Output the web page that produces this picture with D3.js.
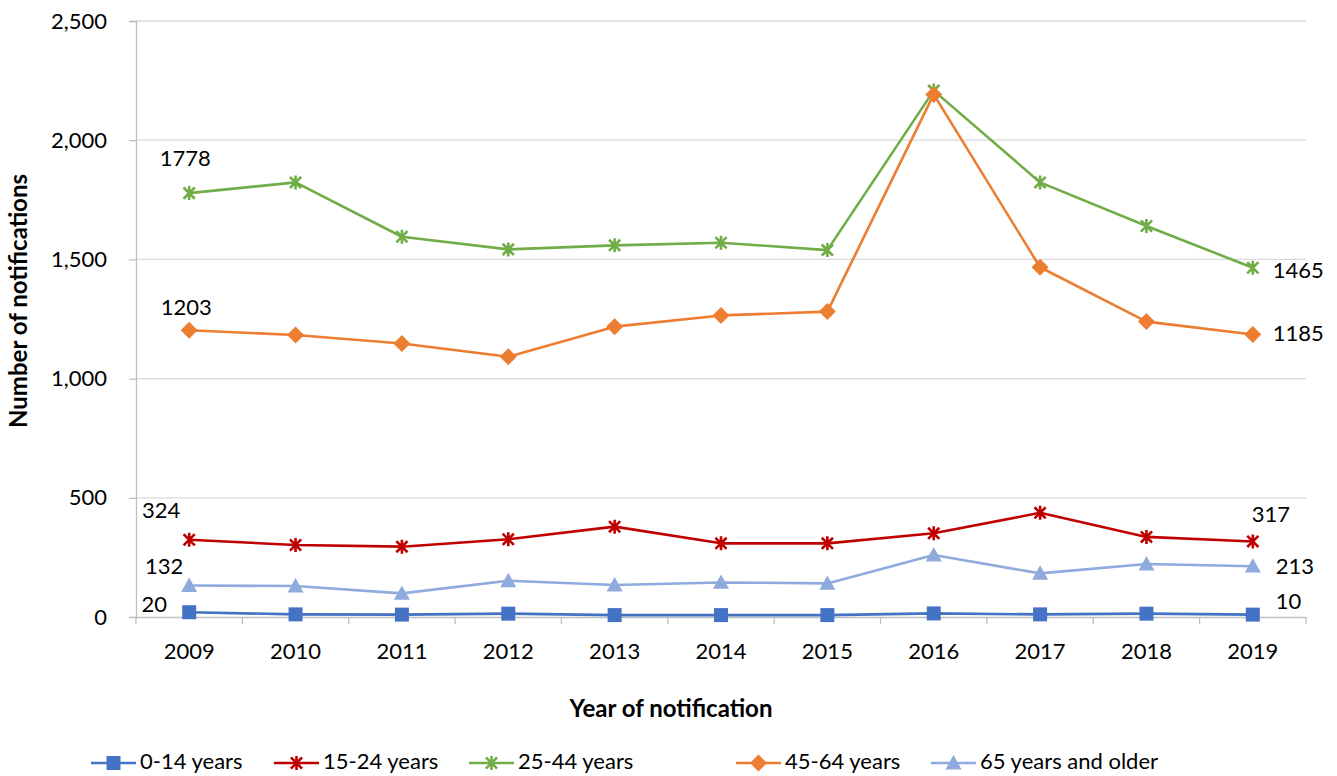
<!DOCTYPE html>
<html><head><meta charset="utf-8">
<script src="https://cdn.jsdelivr.net/npm/d3@7"></script>
<style>body{margin:0;background:#fff;} svg{display:block;} text{font-family:Lato,"Open Sans",sans-serif;fill:#000;}</style>
</head><body><svg id="c" width="1337" height="776"></svg>
<script>
const years = ["2009","2010","2011","2012","2013","2014","2015","2016","2017","2018","2019"];
const seriesNames = ["0-14 years","15-24 years","25-44 years","45-64 years","65 years and older"];
const v0_14  = [20, 11, 10, 14, 8, 8, 8, 15, 11, 14, 10];
const v15_24 = [324, 302, 295, 326, 379, 309, 309, 351, 437, 336, 317];
const v25_44 = [1778, 1823, 1595, 1542, 1559, 1570, 1539, 2208, 1823, 1640, 1465];
const v45_64 = [1203, 1183, 1147, 1092, 1218, 1265, 1281, 2192, 1467, 1239, 1185];
const v65 = [132, 130, 99, 152, 134, 145, 141, 260, 183, 222, 213];
const yTicks = [0, 500, 1000, 1500, 2000, 2500];
const colors = ["#4472C4","#C00000","#70AD47","#ED7D31","#8FAADC"];
const markers = ["square","star","star","diamond","triangle"];
const allValues = [v0_14, v15_24, v25_44, v45_64, v65];

const svg = d3.select("#c");
const L = 136, R = 1306, T = 21, B = 617;
const x = d3.scaleBand().domain(years).range([L, R]);
const y = d3.scaleLinear().domain([0, 2500]).range([B, T]);
const cx = d => x(d) + x.bandwidth()/2;
const fs = 22;

// gridlines
svg.append("g").selectAll("line").data(yTicks.filter(t=>t>0)).join("line")
  .attr("x1", L).attr("x2", R).attr("y1", d=>y(d)).attr("y2", d=>y(d))
  .attr("stroke", "#D9D9D9").attr("stroke-width", 1.3);

// y axis
const ya = svg.append("g").attr("transform", `translate(${L},0)`)
  .call(d3.axisLeft(y).tickValues(yTicks).tickSize(7).tickPadding(22).tickFormat(d3.format(",")));
ya.select(".domain").attr("stroke", "#BFBFBF").attr("stroke-width", 1.3);
ya.selectAll(".tick line").attr("stroke", "#BFBFBF").attr("stroke-width", 1.3);
ya.selectAll("text").style("font-size", fs+"px").style("font-family","Lato,sans-serif");

// x axis
const xa = svg.append("g").attr("transform", `translate(0,${B})`)
  .call(d3.axisBottom(x).tickSize(0).tickPadding(26));
xa.select(".domain").attr("stroke", "#BFBFBF").attr("stroke-width", 1.3);
xa.selectAll("text").style("font-size", fs+"px").style("font-family","Lato,sans-serif");
const bounds = years.map(d => x(d)).concat([x(years[years.length-1]) + x.bandwidth()]);
svg.append("g").selectAll("line").data(bounds).join("line")
  .attr("x1", d=>d).attr("x2", d=>d).attr("y1", B).attr("y2", B+7)
  .attr("stroke", "#BFBFBF").attr("stroke-width", 1.3);

function markerPath(type, s) {
  if (type === "square") return d3.symbol(d3.symbolSquare, s*s)();
  if (type === "diamond") { const h = s/2; return `M0,${-h}L${h},0L0,${h}L${-h},0Z`; }
  if (type === "triangle") { const h = s/2; return `M0,${-h}L${h},${h*0.8}L${-h},${h*0.8}Z`; }
  const h = s/2; const k = h*0.8;
  return `M${-k},${-k}L${k},${k}M${k},${-k}L${-k},${k}M0,${-h}L0,${h}`;
}
function markerSize(m){ return m==="square"?14: m==="diamond"?17: m==="triangle"?16:14; }

const line = d3.line().x((d,i)=>cx(years[i])).y(d=>y(d));
[2,3,1,4,0].forEach(si => {
  const vals = allValues[si];
  const g = svg.append("g");
  g.append("path").attr("d", line(vals)).attr("fill","none")
    .attr("stroke", colors[si]).attr("stroke-width", 2.6).attr("stroke-linejoin","round");
  const m = markers[si];
  g.selectAll("path.m").data(vals).join("path").attr("class","m")
    .attr("transform",(d,i)=>`translate(${cx(years[i])},${y(d)})`)
    .attr("d", markerPath(m, markerSize(m)))
    .attr("fill", m==="star" ? "none" : colors[si])
    .attr("stroke", colors[si]).attr("stroke-width", m==="star"?2.6:0);
});

// data labels
const labels = [
  {s:2, i:0, dx:-4, dy:-33, anchor:"middle"},
  {s:3, i:0, dx:-3, dy:-21, anchor:"middle"},
  {s:1, i:0, dx:-28, dy:-27, anchor:"middle"},
  {s:4, i:0, dx:-25, dy:-17, anchor:"middle"},
  {s:0, i:0, dx:-35, dy:-6, anchor:"middle"},
  {s:2, i:10, dx:20, dy:5, anchor:"start"},
  {s:3, i:10, dx:20, dy:1, anchor:"start"},
  {s:1, i:10, dx:18, dy:-25, anchor:"middle"},
  {s:4, i:10, dx:23, dy:2, anchor:"start"},
  {s:0, i:10, dx:23, dy:-11, anchor:"start"}
];
svg.append("g").selectAll("text").data(labels).join("text")
  .attr("x", d => cx(years[d.i]) + d.dx)
  .attr("y", d => y(allValues[d.s][d.i]) + d.dy)
  .attr("text-anchor", d => d.anchor).attr("dominant-baseline","middle")
  .style("font-size", fs+"px")
  .text(d => allValues[d.s][d.i]);

// axis titles
svg.append("text").attr("x", 671).attr("y", 711).attr("text-anchor","middle")
  .attr("dominant-baseline","middle").style("font-size","24px").style("font-weight","bold")
  .text("Year of notification");
svg.append("text").attr("transform", `translate(21,301) rotate(-90)`).attr("text-anchor","middle")
  .attr("dominant-baseline","middle").style("font-size","24px").style("font-weight","bold")
  .text("Number of notifications");

// legend
const legX = [91, 274, 469, 736, 931];
const lg = svg.append("g");
seriesNames.forEach((n, si) => {
  const g = lg.append("g").attr("transform", `translate(${legX[si]},763)`);
  g.append("line").attr("x1",0).attr("x2",45).attr("stroke",colors[si]).attr("stroke-width",2.6);
  const m = markers[si];
  g.append("path").attr("transform","translate(22.5,0)").attr("d", markerPath(m,markerSize(m)))
    .attr("fill", m==="star"?"none":colors[si]).attr("stroke",colors[si]).attr("stroke-width", m==="star"?2.6:0);
  g.append("text").attr("x", 49).attr("y", 0).attr("dominant-baseline","middle")
    .style("font-size", fs+"px").text(n);
});
</script></body></html>
